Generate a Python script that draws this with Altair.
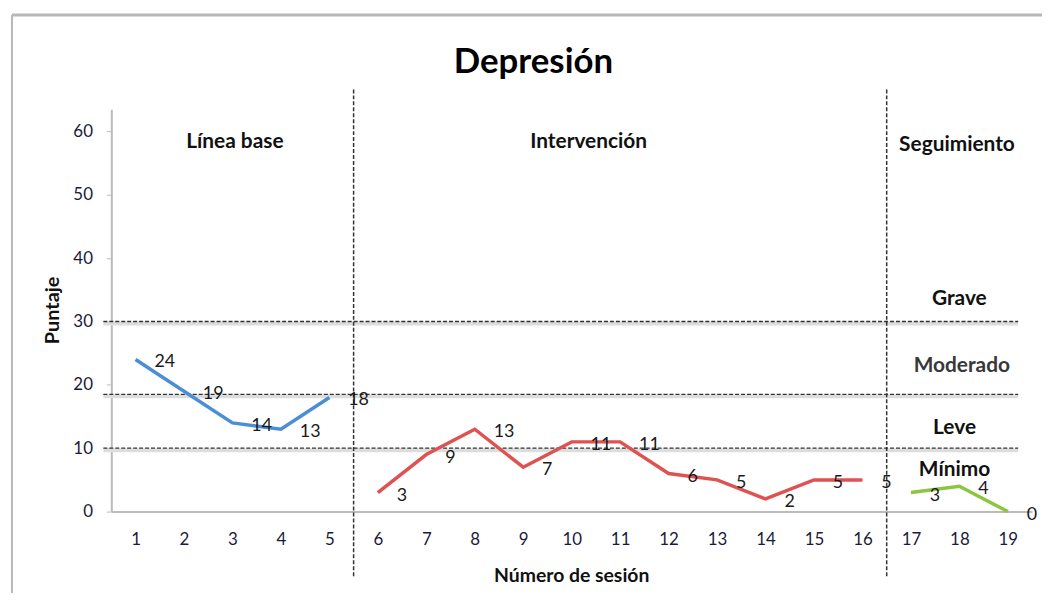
import altair as alt
import pandas as pd

FONT = "Lato"

# --- data ---
sessions = list(range(1, 20))
scores = [24, 19, 14, 13, 18,
          3, 9, 13, 7, 11, 11, 6, 5, 2, 5, 5,
          3, 4, 0]
phases = (["Línea base"] * 5) + (["Intervención"] * 11) + (["Seguimiento"] * 3)
phase_order = ["Línea base", "Intervención", "Seguimiento"]
phase_colors = ["#4a8fd6", "#df5252", "#8cc641"]

cutoffs = [30, 18.5, 10]
phase_breaks = [5.5, 16.5]

zone_labels = ["Grave", "Moderado", "Leve", "Mínimo"]
zone_x = [18.0, 18.05, 17.9, 17.9]
zone_y = [33.5, 22.9, 13.2, 6.5]
zone_colors = ["#111111", "#383838", "#111111", "#111111"]

phase_label_x = [3.05, 10.35, 17.95]
phase_label_y = [58.3, 58.3, 57.8]

W, H = 927, 405

df = pd.DataFrame({"session": sessions, "score": scores, "phase": phases})
cut_df = pd.DataFrame({"y": cutoffs})
brk_df = pd.DataFrame({"x": phase_breaks})
zone_df = pd.DataFrame({"label": zone_labels, "x": zone_x, "y": zone_y, "c": zone_colors})
plab_df = pd.DataFrame({"label": phase_order, "x": phase_label_x, "y": phase_label_y})

xscale = alt.Scale(domain=[0.5, 19.5], nice=False, zero=False)
yscale = alt.Scale(domain=[0, 63.5], nice=False)

xaxis = alt.Axis(values=sessions, ticks=False, grid=False, labelPadding=20,
                 labelFontSize=17, labelFont=FONT, labelColor="#1a1a3a",
                 domainColor="#bbbbbb", domainWidth=2,
                 title="Número de sesión", titleFont=FONT, titleFontSize=19.5,
                 titleFontWeight="bold", titleColor="#111111",
                 titleX=463, titleY=64, titleBaseline="middle", titleAlign="center")
yaxis = alt.Axis(values=[0, 10, 20, 30, 40, 50, 60], grid=False, tickSize=5,
                 tickColor="#bbbbbb", labelPadding=14, labelFontSize=17,
                 labelFont=FONT, labelColor="#1a1a3a",
                 domainColor="#bbbbbb", domainWidth=2,
                 title="Puntaje", titleFont=FONT, titleFontSize=20,
                 titleFontWeight="bold", titleColor="#111111", titleAngle=-90,
                 titleX=-59, titleY=202, titleBaseline="middle", titleAlign="center")

color = alt.Color("phase:N", scale=alt.Scale(domain=phase_order, range=phase_colors), legend=None)

lines = alt.Chart(df).mark_line(strokeWidth=3.5).encode(
    x=alt.X("session:Q", scale=xscale, axis=xaxis),
    y=alt.Y("score:Q", scale=yscale, axis=yaxis),
    color=color,
    detail="phase:N",
)

labels = alt.Chart(df).mark_text(align="left", baseline="middle", dx=19, dy=3,
                                 fontSize=18, font=FONT, color="#1a1a1a").encode(
    x=alt.X("session:Q", scale=xscale),
    y=alt.Y("score:Q", scale=yscale),
    text="score:Q",
)

cut_shadow = alt.Chart(cut_df).mark_rule(color="#dddddd", strokeWidth=4, yOffset=2).encode(
    y=alt.Y("y:Q", scale=yscale), x=alt.value(-8), x2=alt.value(913))
cut_rules = alt.Chart(cut_df).mark_rule(color="#333333", strokeWidth=1.3, strokeDash=[4, 2]).encode(
    y=alt.Y("y:Q", scale=yscale), x=alt.value(-8), x2=alt.value(913))

brk_rules = alt.Chart(brk_df).mark_rule(color="#333333", strokeWidth=1.5, strokeDash=[4, 2]).encode(
    x=alt.X("x:Q", scale=xscale), y=alt.value(-20), y2=alt.value(470))

zones = alt.Chart(zone_df).mark_text(font=FONT, fontWeight="bold", fontSize=21,
                                     baseline="middle").encode(
    x=alt.X("x:Q", scale=xscale), y=alt.Y("y:Q", scale=yscale), text="label:N",
    color=alt.Color("c:N", scale=None))

plabs = alt.Chart(plab_df).mark_text(fontSize=21, font=FONT, fontWeight="bold",
                                     baseline="middle", color="#111111").encode(
    x=alt.X("x:Q", scale=xscale), y=alt.Y("y:Q", scale=yscale), text="label:N")

title = alt.Chart(pd.DataFrame({"t": ["Depresión"]})).mark_text(
    fontSize=35, font=FONT, fontWeight="bold", baseline="alphabetic", color="#000000").encode(
    text="t:N", x=alt.value(425), y=alt.value(-37))

border_top = alt.Chart(pd.DataFrame({"a": [0]})).mark_rule(color="#b8b8b8", strokeWidth=3).encode(
    x=alt.value(-100), x2=alt.value(940), y=alt.value(-95))
border_left = alt.Chart(pd.DataFrame({"a": [0]})).mark_rule(color="#b8b8b8", strokeWidth=2).encode(
    x=alt.value(-100), y=alt.value(-95), y2=alt.value(500))

chart = alt.layer(
    border_top, border_left, cut_shadow, cut_rules, brk_rules,
    lines, labels, zones, plabs, title
).properties(
    width=W, height=H,
    autosize=alt.AutoSizeParams(type="none"),
    padding={"left": 104, "top": 100, "right": 10, "bottom": 80},
    background="white",
).configure_view(strokeWidth=0)

chart.save("out.html", embed_options={"renderer": "svg", "actions": False})
